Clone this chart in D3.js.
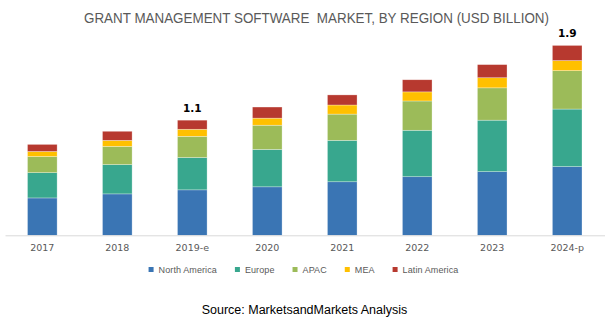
<html>
<head>
    <meta charset="UTF-8">
    <title>Grant management software market, by region</title>
    <script src="https://d3js.org/d3.v7.min.js"></script>
    <style>
        body { margin: 0; background: #fff; }
        .title { font-family: "Liberation Sans Narrow", "Arial Narrow", "Liberation Sans", sans-serif; font-size: 14px; fill: #595959; white-space: pre; }
        .axis-x text { font-family: "DejaVu Sans", Verdana, sans-serif; font-size: 9.5px; fill: #595959; }
        .axis-x path { stroke: #d9d9d9; stroke-width: 1px; }
        .total { font-family: "DejaVu Sans", Verdana, sans-serif; font-size: 10.5px; font-weight: bold; fill: #000; }
        .legend text { font-family: "Liberation Sans", Arial, sans-serif; font-size: 9px; letter-spacing: 0.1px; fill: #595959; }
        .source { font-family: "Liberation Sans", Arial, sans-serif; font-size: 12.5px; fill: #000; }
    </style>
</head>
<body>
    <svg width="614" height="328"></svg>
    <script>
        // market size per region, USD billion
        var years = ['2017', '2018', '2019-e', '2020', '2021', '2022', '2023', '2024-p'];
        var regions = ['North America', 'Europe', 'APAC', 'MEA', 'Latin America'];
        var northAmerica = [0.37, 0.41, 0.45, 0.48, 0.53, 0.58, 0.63, 0.68];
        var europe       = [0.25, 0.29, 0.32, 0.37, 0.41, 0.46, 0.51, 0.57];
        var apac         = [0.16, 0.18, 0.21, 0.24, 0.26, 0.29, 0.32, 0.38];
        var mea          = [0.05, 0.06, 0.07, 0.07, 0.09, 0.09, 0.10, 0.10];
        var latinAmerica = [0.07, 0.09, 0.09, 0.11, 0.10, 0.12, 0.13, 0.15];
        var colors = ['#3a75b4', '#38a78e', '#9cbb59', '#ffc000', '#b7392f'];
        // only these two bars carry a total label
        var labelled = ['2019-e', '2024-p'];

        var series = [northAmerica, europe, apac, mea, latinAmerica];
        var data = years.map(function (y, i) {
            var row = { year: y };
            regions.forEach(function (r, k) { row[r] = series[k][i]; });
            row.total = d3.sum(series, function (s) { return s[i]; });
            return row;
        });

        var svg = d3.select('svg');

        svg.append('text')
            .attr('class', 'title')
            .attr('x', 84)
            .attr('y', 23)
            .attr('textLength', 465)
            .attr('lengthAdjust', 'spacingAndGlyphs')
            .text('GRANT MANAGEMENT SOFTWARE  MARKET, BY REGION (USD BILLION)');

        var x_scale = d3.scaleBand().domain(years).range([5, 604.5]).paddingInner(0.605).paddingOuter(0.3);
        var y_scale = d3.scaleLinear().domain([0, 2]).range([235.3, 33.3]);
        var z_scale = d3.scaleOrdinal().domain(regions).range(colors);

        var stacked = d3.stack().keys(regions)(data);

        svg.append('g').selectAll('g')
            .data(stacked)
            .enter().append('g')
                .attr('fill', function (d) { return z_scale(d.key); })
            .selectAll('rect')
            .data(function (d) { return d; })
            .enter().append('rect')
                .attr('x', function (d) { return x_scale(d.data.year); })
                .attr('y', function (d) { return y_scale(d[1]); })
                .attr('width', x_scale.bandwidth())
                .attr('height', function (d) { return y_scale(d[0]) - y_scale(d[1]); })
                .attr('stroke', '#fff')
                .attr('stroke-width', 0.6)
                .attr('stroke-opacity', 0.5);

        var axis = svg.append('g')
            .attr('class', 'axis-x')
            .attr('transform', 'translate(0,' + y_scale(0) + ')')
            .call(d3.axisBottom(x_scale).tickSize(0).tickPadding(9));
        axis.selectAll('.tick line').remove();

        svg.append('g').selectAll('text')
            .data(data.filter(function (d) { return labelled.indexOf(d.year) >= 0; }))
            .enter().append('text')
                .attr('class', 'total')
                .attr('text-anchor', 'middle')
                .attr('x', function (d) { return x_scale(d.year) + x_scale.bandwidth() / 2; })
                .attr('y', function (d) { return y_scale(d.total) - 8.5; })
                .text(function (d) { return d3.format('.1f')(d.total); });

        // legend: square + name, laid out left to right and centred
        var legend = svg.append('g').attr('class', 'legend');
        var items = legend.selectAll('g').data(regions).enter().append('g');
        items.append('rect')
            .attr('width', 5).attr('height', 5)
            .attr('y', -3)
            .attr('fill', function (d) { return z_scale(d); });
        items.append('text')
            .attr('x', 10)
            .attr('y', 3.3)
            .text(function (d) { return d; });
        var gap = 18, offset = 0;
        items.each(function () {
            var g = d3.select(this);
            g.attr('transform', 'translate(' + offset + ',0)');
            offset += 10 + g.select('text').node().getComputedTextLength() + gap;
        });
        offset -= gap;
        legend.attr('transform', 'translate(' + (303.5 - offset / 2) + ',270)');

        svg.append('text')
            .attr('class', 'source')
            .attr('x', 304.5)
            .attr('y', 313.5)
            .attr('text-anchor', 'middle')
            .text('Source: MarketsandMarkets Analysis');
    </script>
</body>
</html>
